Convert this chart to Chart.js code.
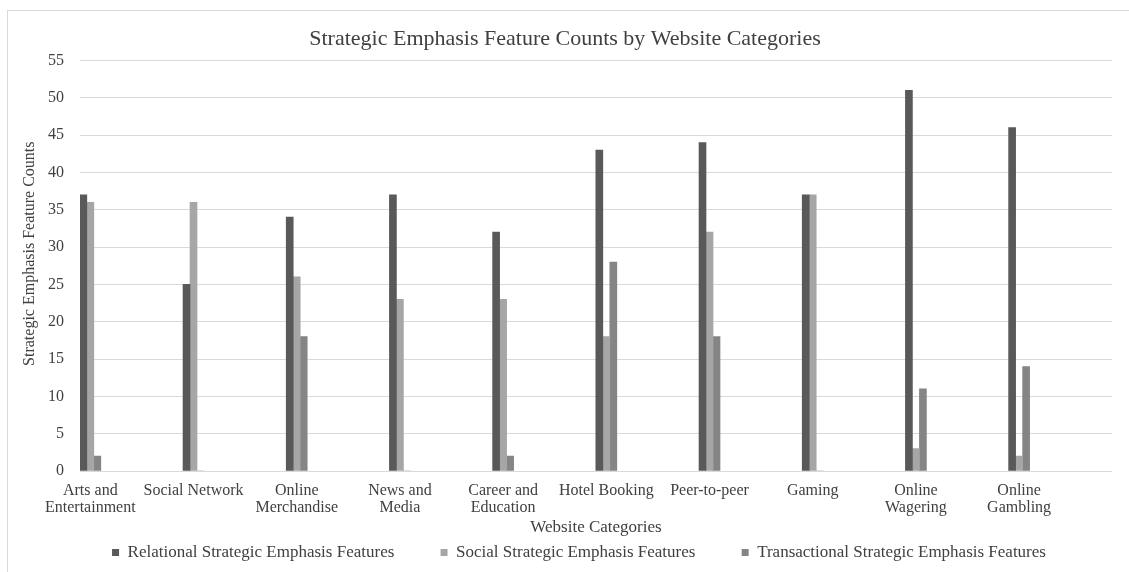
<!DOCTYPE html>
<html lang="en">
    <head>
        <meta charset="utf-8" />
        <script src="https://cdn.jsdelivr.net/npm/chart.js@4.4.0/dist/chart.umd.min.js"></script>
        <title>Strategic Emphasis Feature Counts</title>
        <style>
            body { margin: 0; background: #fff; }
            #grafico { display: block; }
        </style>
    </head>
    <body>
        <canvas id="grafico" width="1129" height="572"></canvas>
        <script>
            // categorias y valores
            const categorias = [
                ["Arts and", "Entertainment"], "Social Network", ["Online", "Merchandise"], ["News and", "Media"],
                ["Career and", "Education"], "Hotel Booking", "Peer-to-peer", "Gaming", ["Online", "Wagering"], ["Online", "Gambling"]
            ];
            const relacional = [37, 25, 34, 37, 32, 43, 44, 37, 51, 46];
            const social = [36, 36, 26, 23, 23, 18, 32, 37, 3, 2];
            const transaccional = [2, 0, 18, 0, 2, 28, 18, 0, 11, 14];
            const ticksY = [0, 5, 10, 15, 20, 25, 30, 35, 40, 45, 50, 55];

            const fuente = "'Liberation Serif', 'Times New Roman', serif";
            const puntos = (valores) => valores.map((v, i) => ({ x: i, y: v }));

            const marco = {
                id: "marco",
                afterLayout(chart) {
                    // la leyenda del original esta algo corrida a la derecha
                    chart.legend.left += 14;
                    chart.legend.right += 14;
                },
                beforeDraw(chart) {
                    const ctx = chart.ctx;
                    ctx.save();
                    ctx.strokeStyle = "#d9d9d9";
                    ctx.lineWidth = 1;
                    ctx.strokeRect(7.5, 10.5, 1200, 700);
                    ctx.restore();
                }
            };

            new Chart(document.querySelector("#grafico").getContext("2d"), {
                type: "bar",
                data: {
                    datasets: [
                        { label: "Relational Strategic Emphasis Features", data: puntos(relacional), backgroundColor: "#595959" },
                        { label: "Social Strategic Emphasis Features", data: puntos(social), backgroundColor: "#a6a6a6" },
                        { label: "Transactional Strategic Emphasis Features", data: puntos(transaccional), backgroundColor: "#858585" }
                    ]
                },
                options: {
                    responsive: false,
                    animation: false,
                    barThickness: 7,
                    layout: { padding: { left: 18, right: 17, top: 14, bottom: 1 } },
                    font: { family: fuente },
                    scales: {
                        x: {
                            type: "linear",
                            offset: false,
                            min: -0.1,
                            max: 9.9,
                            grid: { display: false, drawTicks: false },
                            border: { display: false },
                            afterBuildTicks: (eje) => { eje.ticks = categorias.map((c, i) => ({ value: i })); },
                            afterFit: (eje) => { eje.height = 65; },
                            ticks: {
                                autoSkip: false,
                                maxRotation: 0,
                                padding: 11,
                                color: "#404040",
                                font: { family: fuente, size: 16, lineHeight: 1.06 },
                                callback: (valor) => categorias[valor]
                            },
                            title: {
                                display: true,
                                text: "Website Categories",
                                color: "#404040",
                                font: { family: fuente, size: 17, lineHeight: 1.0 },
                                padding: { top: 0, bottom: 0 }
                            }
                        },
                        y: {
                            min: 0,
                            max: 55,
                            afterBuildTicks: (eje) => { eje.ticks = ticksY.map((v) => ({ value: v })); },
                            afterFit: (eje) => { eje.width = 62; },
                            grid: { color: "#d9d9d9", drawTicks: false },
                            border: { display: false },
                            ticks: {
                                padding: 16,
                                color: "#404040",
                                font: { family: fuente, size: 16 }
                            },
                            title: {
                                display: true,
                                text: "      Strategic Emphasis Feature Counts",
                                color: "#404040",
                                font: { family: fuente, size: 16 },
                                padding: { top: 2, bottom: 0 }
                            }
                        }
                    },
                    plugins: {
                        title: {
                            display: true,
                            text: "Strategic Emphasis Feature Counts by Website Categories",
                            color: "#404040",
                            font: { family: fuente, size: 22, weight: "normal" },
                            padding: { top: 12, bottom: 8 }
                        },
                        legend: {
                            position: "bottom",
                            labels: {
                                boxWidth: 7,
                                boxHeight: 7,
                                padding: 8,
                                color: "#404040",
                                font: { family: fuente, size: 17 },
                                // separacion entre elementos de la leyenda
                                generateLabels: (chart) => {
                                    const items = Chart.defaults.plugins.legend.labels.generateLabels(chart);
                                    items.forEach((item, i) => {
                                        if (i < items.length - 1) item.text += "         ";
                                    });
                                    return items;
                                }
                            }
                        },
                        tooltip: { enabled: false }
                    }
                },
                plugins: [marco]
            });
        </script>
    </body>
</html>
